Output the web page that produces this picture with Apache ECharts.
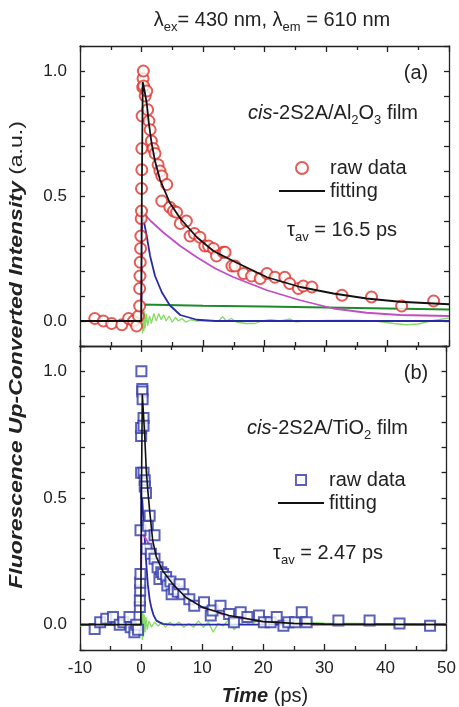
<!DOCTYPE html>
<html style="height: 100%">
<head>
    <meta charset="utf-8">
    <script src="https://cdn.jsdelivr.net/npm/echarts@6/dist/echarts.min.js"></script>
</head>
<body style="height: 100%; margin: 0; background: #fff">
    <div id="container" style="width: 459px; height: 707px"></div>
    <script type="text/javascript">
        // panel (a): cis-2S2A/Al2O3 film, [time ps, intensity]
        var rawA = [[-7.6,0.01],[-6.2,0.0],[-4.85,-0.01],[-3.2,-0.015],[-2.1,0.01],[-1.3,0.0],[-0.8,-0.02],[-0.5,0.02],
            [-0.3,0.06],[-0.3,0.13],[-0.25,0.18],[-0.2,0.235],[-0.15,0.29],[-0.1,0.34],[-0.05,0.41],[0,0.44],[0,0.53],
            [0.05,0.605],[0.05,0.69],[0.1,0.82],[0.2,0.935],[0.25,0.97],[0.3,1.0],[0.35,0.94],[0.6,0.9],[0.85,0.92],
            [1.0,0.845],[1.2,0.8],[1.4,0.765],[1.6,0.72],[1.9,0.69],[2.2,0.67],[2.7,0.625],[3.0,0.6],[3.3,0.58],[3.3,0.48],
            [4.1,0.546],[4.6,0.455],[5.2,0.44],[5.7,0.435],[6.3,0.39],[7.3,0.40],[7.9,0.34],[8.6,0.35],[9.5,0.335],
            [10.3,0.30],[10.9,0.30],[11.7,0.29],[12.2,0.26],[13.3,0.275],[13.6,0.275],[14.7,0.22],[15.2,0.22],[16.6,0.19],
            [17.9,0.18],[19.3,0.17],[20.4,0.19],[21.7,0.175],[23.3,0.175],[24.1,0.15],[25.5,0.13],[26.3,0.14],[27.7,0.136],
            [32.6,0.103],[37.4,0.096],[42.3,0.06],[47.5,0.08]];
        var fitA = [[-10,0],[-0.05,0],[0.05,0.5],[0.2,0.956],[0.5,0.92],[0.85,0.87],[1.2,0.79],[1.65,0.71],[2.2,0.64],
            [3.0,0.566],[4.6,0.473],[6.3,0.41],[9.0,0.335],[11.7,0.28],[14.9,0.24],[20.4,0.175],[25.8,0.136],[31.2,0.11],
            [36.6,0.09],[42,0.077],[50,0.067]];
        var slowA = [[-10,0],[-0.02,0],[0.05,0.44],[0.3,0.435],[1.5,0.40],[3.5,0.355],[6.3,0.30],[9.0,0.255],[12,0.21],
            [14.9,0.176],[20.4,0.123],[25.8,0.083],[31.2,0.05],[36.6,0.033],[42,0.024],[50,0.02]];
        var fastA = [[-10,0],[-0.02,0],[0.05,0.45],[0.3,0.41],[0.85,0.34],[1.4,0.26],[2.2,0.18],[3.3,0.115],[4.6,0.063],
            [6.3,0.024],[9,0.005],[12,0],[50,0]];
        var longA = [[-10,0],[-0.02,0],[0.05,0.066],[10,0.061],[20,0.058],[30,0.054],[40,0.05],[50,0.046]];
        var residA = [[-1.5,0],[-1,0.01],[-0.5,-0.01],[-0.2,0.02],[0,-0.03],[0.1,0.06],[0.2,-0.05],[0.3,0.05],[0.4,-0.04],
            [0.5,0.04],[0.6,-0.03],[0.8,0.03],[1.0,-0.02],[1.3,0.02],[1.6,-0.01],[2.0,0.03],[2.4,0.0],[2.8,0.03],[3.2,0.005],
            [3.6,0.025],[4.0,0.0],[4.5,0.02],[5.0,-0.005],[5.5,0.015],[6.0,0.0],[6.6,0.01],[7.2,-0.005],[8,0.005],[9,0.0],
            [10,0.002],[12.5,0.0],[13.2,0.017],[13.8,0.0],[14.6,0.01],[15.5,-0.005],[17,-0.01],[18.5,-0.01],[19.5,0.0],
            [21,0.005],[22.5,0.0],[24.2,0.008],[25,-0.003],[27,0.0],[30,0.002],[34,0.003],[38,0.0],[41,-0.01],[43,-0.015],
            [45,-0.012],[47,0.0],[49,0.008],[50,0.012]];

        // panel (b): cis-2S2A/TiO2 film
        var rawB = [[-7.6,-0.017],[-6.7,0.01],[-5.7,0.023],[-4.6,0.03],[-3.5,0.0],[-2.9,0.01],[-1.9,0.03],[-1.7,-0.01],
            [-1.1,-0.03],[-0.8,0.0],[-0.5,-0.02],[-0.2,0.07],[-0.2,0.095],[-0.15,0.135],[-0.15,0.165],[-0.1,0.2],[-0.1,0.373],
            [0,0.6],[0,0.745],[0,0.776],[0.05,1.0],[0.2,0.93],[0.2,0.92],[0.25,0.89],[0.4,0.816],[0.4,0.785],[0.4,0.6],
            [0.6,0.57],[0.6,0.545],[0.8,0.52],[0.9,0.3],[1.1,0.39],[1.4,0.43],[1.6,0.28],[2.2,0.353],[2.2,0.26],[2.7,0.227],
            [3.0,0.18],[3.3,0.207],[3.6,0.2],[4.1,0.188],[4.3,0.155],[4.8,0.17],[5.0,0.12],[5.4,0.14],[6.0,0.13],[6.3,0.16],
            [6.9,0.12],[7.9,0.10],[8.7,0.075],[10.3,0.088],[11.4,0.036],[11.7,0.056],[13.0,0.075],[14.4,0.042],[15.2,0.01],
            [16.3,0.049],[17.4,0.03],[19.3,0.036],[20.1,0.01],[21.2,0.01],[22.2,0.03],[23.3,-0.004],[24.1,0.01],[25.2,0.01],
            [26.3,0.049],[27.1,0.01],[32.3,0.016],[37.4,0.016],[42.3,0.005],[47.3,-0.004]];
        var fitB = [[-10,0],[-0.05,0],[0.05,0.5],[0.2,0.91],[0.57,0.757],[0.85,0.61],[1.1,0.53],[1.4,0.45],[1.9,0.333],
            [2.5,0.267],[3.5,0.214],[5.2,0.16],[7.3,0.108],[10,0.069],[14.4,0.036],[20,0.012],[25,0.005],[30,0.002],[50,0]];
        var slowB = [[-10,0],[-0.02,0],[0.05,0.366],[0.5,0.35],[1.9,0.294],[3.5,0.227],[5.2,0.168],[7.3,0.108],[10,0.069],
            [14.4,0.032],[20.4,0.008],[25,0.003],[30,0.002],[50,0.002]];
        var fastB = [[-10,0],[-0.02,0],[0.05,0.55],[0.3,0.45],[0.57,0.35],[0.85,0.24],[1.1,0.16],[1.4,0.1],[1.65,0.07],
            [2.0,0.04],[2.5,0.016],[3.5,0.003],[5,0],[50,0]];
        var residB = [[-10,-0.005],[-8,0.0],[-6,0.01],[-4,0.005],[-2,0.0],[-1,0.01],[-0.5,-0.01],[-0.2,0.02],[0,-0.04],
            [0.1,0.055],[0.2,-0.06],[0.3,0.05],[0.4,-0.05],[0.5,0.04],[0.65,-0.03],[0.8,0.03],[1.0,-0.02],[1.3,0.015],
            [1.7,-0.01],[2.2,0.01],[2.8,-0.005],[3.4,0.01],[4,-0.01],[4.7,0.01],[5.4,-0.005],[6.2,0.01],[7,-0.01],[7.8,0.005],
            [8.6,-0.01],[9.4,0.015],[10.2,-0.01],[11,0.01],[11.8,-0.03],[12.6,0.005],[13.4,-0.005],[14.4,0.02],[15.2,-0.02],
            [16,0.0],[17,0.01],[18,0.0],[19.3,0.02],[20,0.0],[21,0.01],[22,0.005],[23,0.0],[24,0.005],[25,0.01],[26.3,0.036],
            [27,0.01],[30,0.006],[35,0.005],[40,0.004],[45,0.003],[50,0.003]];

        var xTickLabels = ['-10', '0', '10', '20', '30', '40', '50'];
        var yTickLabels = ['0.0', '0.5', '1.0'];

        var FONT = 'Liberation Sans, Arial, sans-serif';
        var AX = '#222';
        var LINE_ICON = 'path://M0,0H46V2H0Z';
        // hollow square, inner path wound the other way
        var SQUARE_ICON = 'path://M0,0H10V10H0Z M1.6,1.6V8.4H8.4V1.6Z';

        function xAxisFor(grid, pos, labels) {
            return {
                type: 'value', gridIndex: grid, position: pos, min: -10, max: 50, interval: 10,
                axisLine: { show: true, onZero: false, lineStyle: { color: AX, width: 1.3 } },
                axisTick: { inside: true, length: 6, lineStyle: { color: AX, width: 1.3 } },
                minorTick: { show: true, splitNumber: 2, length: 4, lineStyle: { color: AX, width: 1.3 } },
                splitLine: { show: false },
                axisLabel: {
                    show: labels, color: '#222', fontSize: 17, fontFamily: FONT, margin: 10,
                    formatter: function (v) {
                        var s = String(Math.round(v));
                        return xTickLabels.indexOf(s) >= 0 ? s : '';
                    }
                }
            };
        }
        function yAxisFor(grid, pos, labels) {
            return {
                type: 'value', gridIndex: grid, position: pos, min: -0.1, max: 1.1, interval: 0.1,
                axisLine: { show: true, onZero: false, lineStyle: { color: AX, width: 1.3 } },
                axisTick: { inside: true, length: 5, lineStyle: { color: AX, width: 1.3 } },
                splitLine: { show: false },
                axisLabel: {
                    show: labels, color: '#222', fontSize: 17, fontFamily: FONT, margin: 13,
                    formatter: function (v) {
                        var s = (Math.round(v * 10) / 10).toFixed(1);
                        return yTickLabels.indexOf(s) >= 0 ? s : '';
                    }
                }
            };
        }
        function line(name, data, color, xi, yi, w, z) {
            return {
                name: name, type: 'line', data: data, xAxisIndex: xi, yAxisIndex: yi,
                showSymbol: false, symbol: 'none', z: z, silent: true,
                lineStyle: { color: color, width: w }, itemStyle: { color: color }
            };
        }
        function sub(size) {
            return { fontSize: size, fontFamily: FONT, fill: '#222', lineHeight: size, verticalAlign: 'bottom' };
        }
        function label(x, y, text, align, rich) {
            return {
                type: 'text', x: x, y: y,
                style: {
                    text: text, fontSize: 20, fontFamily: FONT, fill: '#222', lineHeight: 28,
                    align: align, verticalAlign: 'middle', textAlign: align, textVerticalAlign: 'middle',
                    rich: rich || {}
                }
            };
        }
        var richSub = {
            i: { fontSize: 20, fontFamily: FONT, fontStyle: 'italic', fill: '#222', lineHeight: 28 },
            s: sub(13)
        };
        function legendFor(left, top, names, firstIcon) {
            return {
                left: left, top: top, orient: 'vertical', itemWidth: 46, itemHeight: 12, itemGap: 3,
                selectedMode: false,
                data: [{ name: names[0], icon: firstIcon }, { name: names[1], icon: LINE_ICON }],
                textStyle: { fontSize: 20, fontFamily: FONT, color: '#222' },
                formatter: function (n) { return n.replace(/ \(.\)$/, ''); }
            };
        }

        var chart = echarts.init(document.getElementById('container'));
        var option = {
            animation: false,
            backgroundColor: '#fff',
            grid: [
                { left: 80, right: 10, top: 46, height: 300 },
                { left: 80, right: 10, top: 346, height: 304 }
            ],
            xAxis: [xAxisFor(0, 'bottom', false), xAxisFor(0, 'top', false), xAxisFor(1, 'bottom', true), xAxisFor(1, 'top', false)],
            yAxis: [yAxisFor(0, 'left', true), yAxisFor(0, 'right', false), yAxisFor(1, 'left', true), yAxisFor(1, 'right', false)],
            legend: [
                legendFor(274, 153, ['raw data (a)', 'fitting (a)'], 'emptyCircle'),
                legendFor(273, 465, ['raw data (b)', 'fitting (b)'], SQUARE_ICON)
            ],
            graphic: [
                label(272, 20, 'λ{s|ex}= 430 nm, λ{s|em} = 610 nm', 'center', { s: sub(13) }),
                {
                    type: 'text', x: 17, y: 355, rotation: Math.PI / 2, scaleX: 1.21,
                    style: {
                        text: '{b|Fluorescence Up-Converted Intensity} (a.u.)', fontSize: 19, fontFamily: FONT, fill: '#222',
                        align: 'center', verticalAlign: 'middle', textAlign: 'center', textVerticalAlign: 'middle',
                        rich: { b: { fontSize: 19, fontFamily: FONT, fontWeight: 'bold', fontStyle: 'italic', fill: '#222' } }
                    }
                },
                {
                    type: 'text', x: 265, y: 696,
                    style: {
                        text: '{b|Time} (ps)', fontSize: 20, fontFamily: FONT, fill: '#222',
                        align: 'center', verticalAlign: 'middle', textAlign: 'center', textVerticalAlign: 'middle',
                        rich: { b: { fontSize: 20, fontFamily: FONT, fontWeight: 'bold', fontStyle: 'italic', fill: '#222' } }
                    }
                },
                label(416, 73, '(a)', 'center'),
                label(416, 373, '(b)', 'center'),
                label(418, 113, '{i|cis}-2S2A/Al{s|2}O{s|3} film', 'right', richSub),
                label(408, 428, '{i|cis}-2S2A/TiO{s|2} film', 'right', richSub),
                label(287, 230, 'τ{s|av} = 16.5 ps', 'left', { s: sub(13) }),
                label(273, 553, 'τ{s|av} = 2.47 ps', 'left', { s: sub(13) })
            ],
            series: [
                line('residual a', residA, '#86dc66', 0, 0, 1.3, 2),
                line('long a', longA, '#1f8a2a', 0, 0, 1.8, 3),
                line('fast a', fastA, '#2a2aa6', 0, 0, 1.8, 3),
                line('slow a', slowA, '#c24dc4', 0, 0, 1.8, 3),
                {
                    name: 'raw data (a)', type: 'scatter', data: rawA, xAxisIndex: 0, yAxisIndex: 0, z: 4,
                    symbol: 'emptyCircle', symbolSize: 11,
                    itemStyle: { color: '#e0322c', borderWidth: 1.5 }
                },
                line('fitting (a)', fitA, '#111', 0, 0, 1.8, 5),

                line('residual b', residB, '#86dc66', 2, 2, 1.3, 2),
                line('fast b', fastB, '#2a2aa6', 2, 2, 1.8, 3),
                line('slow b', slowB, '#c24dc4', 2, 2, 1.8, 3),
                {
                    name: 'raw data (b)', type: 'scatter', data: rawB, xAxisIndex: 2, yAxisIndex: 2, z: 4,
                    symbol: 'emptyRect', symbolSize: 10,
                    itemStyle: { color: '#2f3aa8', borderWidth: 1.5 }
                },
                line('fitting (b)', fitB, '#111', 2, 2, 1.6, 5)
            ]
        };
        chart.setOption(option);
    </script>
</body>
</html>
